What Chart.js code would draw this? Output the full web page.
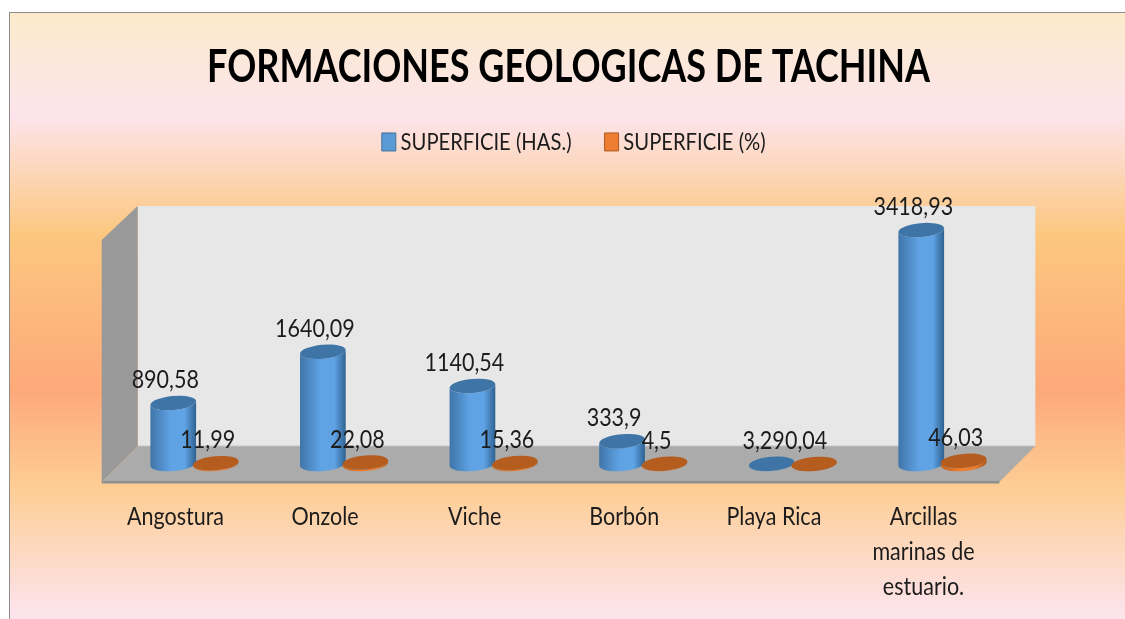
<!DOCTYPE html>
<html><head><meta charset="utf-8">
<style>html,body{margin:0;padding:0;background:#fff;overflow:hidden}canvas{display:block;filter:blur(.35px)}</style>
<script src="https://cdn.jsdelivr.net/npm/chart.js@4"></script></head>
<body><div style="width:1125px;height:619px"><canvas id="c" width="1125" height="619"></canvas></div>
<script>
const categories = ["Angostura","Onzole","Viche","Borbón","Playa Rica",["Arcillas","marinas de","estuario."]];
const hectares = [890.58,1640.09,1140.54,333.9,3.29,3418.93];
const percent = [11.99,22.08,15.36,4.5,0.04,46.03];
const FONT = "Lato,'Liberation Sans',sans-serif";
const BODY_SQUEEZE = .86, TITLE_SQUEEZE = .783, LEGEND_SIZE = 23.5, LEGEND_TEXT_PULL = 7;

const canvas = document.getElementById('c');
const rawCtx = canvas.getContext('2d');
const fontPx = () => parseFloat((rawCtx.font.match(/([\d.]+)px/)||[])[1]);
const squeeze = () => (fontPx() > 30 ? TITLE_SQUEEZE : BODY_SQUEEZE);
const nativeFill = rawCtx.fillText.bind(rawCtx), nativeMeasure = rawCtx.measureText.bind(rawCtx);
rawCtx.fillText = (t,x,y,m) => {
  const dx = fontPx() === LEGEND_SIZE ? LEGEND_TEXT_PULL : 0;
  rawCtx.save(); rawCtx.translate(x-dx,y); rawCtx.scale(squeeze(),1); nativeFill(t,0,0); rawCtx.restore();
};
rawCtx.measureText = t => ({width: nativeMeasure(t).width*squeeze()});

const scene = {
  id:'scene',
  afterLayout(chart){ chart.legend.left += 8.75; chart.legend.right += 8.75; },
  beforeDraw(chart){
    const {ctx,chartArea:a} = chart, depth=18;
    ctx.save();
    const g = ctx.createLinearGradient(0,12,0,619);
    [[0,'#FBEBCB'],[.17,'#FDE4EC'],[.367,'#FCC77F'],[.623,'#FDA97A'],[.787,'#FDCE95'],[.985,'#FDE3EA'],[1,'#FDE3EA']].forEach(s=>g.addColorStop(s[0],s[1]));
    ctx.fillStyle=g; ctx.fillRect(9,12,1116,607);
    ctx.fillStyle='#8c8c8c'; ctx.fillRect(9,12,1116,1); ctx.fillRect(9,12,1,607);
    const L=a.left, R=a.right, B=a.bottom, top=206;
    ctx.fillStyle='#E7E7E7'; ctx.fillRect(L+depth,top,R-L,B-depth-top);
    ctx.fillStyle='#ABABAB'; ctx.beginPath();
    ctx.moveTo(L-depth,B+depth);ctx.lineTo(L+depth,B-depth);ctx.lineTo(R+depth,B-depth);ctx.lineTo(R-depth,B+depth);ctx.closePath();ctx.fill();
    ctx.strokeStyle='#C4C4C4';ctx.lineWidth=1;ctx.beginPath();ctx.moveTo(L+depth,B-depth);ctx.lineTo(R+depth,B-depth);ctx.stroke();
    ctx.fillStyle='#8F8F8F'; ctx.fillRect(L-depth,B+depth-1,R-L,2.5);
    ctx.fillStyle='#999999'; ctx.beginPath();
    ctx.moveTo(L-depth,top+34);ctx.lineTo(L+depth,top);ctx.lineTo(L+depth,B-depth);ctx.lineTo(L-depth,B+depth);ctx.closePath();ctx.fill();
    ctx.restore();
  },
  beforeDatasetDraw(){ return false; },
  afterDatasetsDraw(chart){
    const {ctx} = chart, ry=7, rot=-0.09;
    const side=[['#3F74A8','#5FA3E5','#2F6190'],['#C2651F','#ED7D31','#A9561A']], cap=['#3F75A6','#B55D1E'];
    [0,1].forEach(di=>{
      chart.getDatasetMeta(di).data.forEach(el=>{
        const rx=el.width/2, x=el.x, top=el.y, base=el.base;
        const g=ctx.createLinearGradient(x-rx,0,x+rx,0);
        g.addColorStop(0,side[di][0]);g.addColorStop(.45,side[di][1]);g.addColorStop(.75,side[di][1]);g.addColorStop(1,side[di][2]);
        ctx.save();
        ctx.fillStyle=g;
        ctx.beginPath();
        ctx.ellipse(x,base,rx,ry,rot,0,Math.PI);
        ctx.ellipse(x,top,rx,ry,rot,Math.PI,0,true);
        ctx.closePath();ctx.fill();
        ctx.fillStyle=cap[di];
        ctx.beginPath();ctx.ellipse(x,top,rx,ry,rot,0,Math.PI*2);ctx.fill();
        ctx.restore();
      });
    });
    ctx.save();
    ctx.fillStyle='#1c1c1c';ctx.font="25px "+FONT;ctx.textAlign='center';ctx.textBaseline='middle';
    [0,1].forEach(di=>{
      chart.getDatasetMeta(di).data.forEach((el,i)=>{
        const v=chart.data.datasets[di].data[i];
        ctx.fillText(String(v).replace('.',','),el.x-8,el.y-23);
      });
    });
    ctx.restore();
  }
};

new Chart(canvas,{
  type:'bar',
  data:{labels:categories,datasets:[
    {label:'SUPERFICIE (HAS.)',data:hectares,backgroundColor:'#5B9BD5',borderColor:'#41719C',borderWidth:1},
    {label:'SUPERFICIE (%)',data:percent,backgroundColor:'#ED7D31',borderColor:'#AE5A21',borderWidth:1}
  ]},
  options:{
    responsive:false,animation:false,
    layout:{padding:{left:119.7,right:107.7,top:0,bottom:0}},
    datasets:{bar:{categoryPercentage:.568,barPercentage:1.08}},
    plugins:{
      tooltip:{enabled:false},
      title:{display:true,text:'FORMACIONES GEOLOGICAS DE TACHINA',color:'#000',font:{family:FONT,size:46,weight:'bold'},padding:{top:40,bottom:9}},
      legend:{display:true,position:'top',labels:{color:'#1c1c1c',font:{family:FONT,size:LEGEND_SIZE},boxWidth:14,boxHeight:18,padding:26}}
    },
    scales:{
      x:{grid:{display:false},border:{display:false},
         ticks:{color:'#1c1c1c',font:{family:FONT,size:25,lineHeight:35/25},padding:27,labelOffset:-19,maxRotation:0,autoSkip:false},
         afterFit(s){s.height=155;}},
      y:{display:false,min:0,max:4390}
    }
  },
  plugins:[scene]
});
</script></body></html>
